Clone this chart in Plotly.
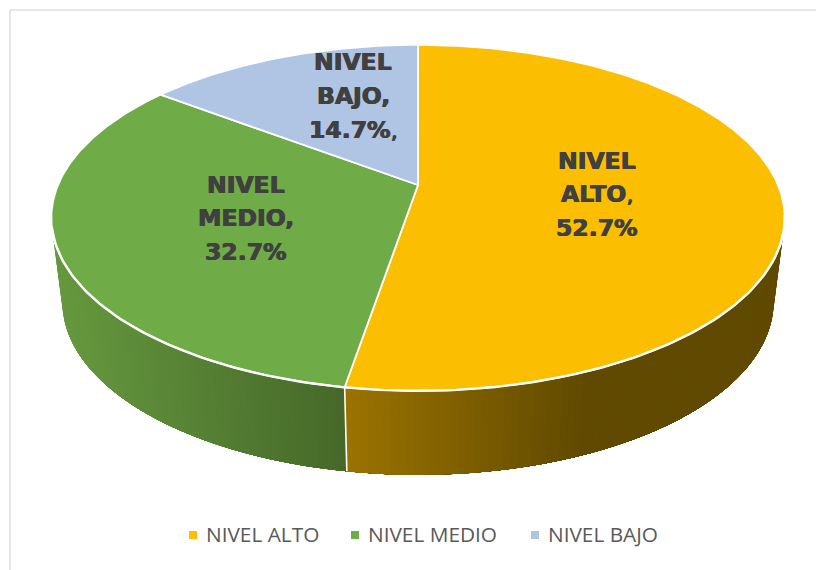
"""3D pie: nivel alto / medio / bajo, drawn on pixel-sized axes."""

import math

import plotly.graph_objects as go

categories = ["NIVEL ALTO", "NIVEL MEDIO", "NIVEL BAJO"]
values = [52.7, 32.7, 14.7]
label_lines = [
    ["<b>NIVEL</b>", "<b>ALTO</b>,", "<b>52.7%</b>"],
    ["<b>NIVEL</b>", "<b>MEDIO,</b>", "<b>32.7%</b>"],
    ["<b>NIVEL</b>", "<b>BAJO,</b>", "<b>14.7%</b>,"],
]
colors = ["#FBBE00", "#6FAB47", "#B0C4E3"]

# look of the tilted disc
CX, CY = 418, 185
A, B, P = 360, 166.7, 0.19
DEPTH = 84
SHRINK = 0.97
WALL_STOPS = {
    0: [(347, (156, 116, 0)), (590, (96, 73, 0)), (790, (96, 73, 0))],
    1: [(60, (102, 153, 63)), (345, (70, 104, 41))],
}
LABEL_POS = [(597, [161, 194, 228]), (246, [185, 218, 252]), (353, [62, 96, 130])]
LEGEND_X = [193, 355, 535]


def rim(theta, scale=1.0, dy=0.0):
    t = math.radians(theta)
    u, v = math.sin(t), math.cos(t)
    d = 1 + P * v
    return CX + scale * A * u / d, CY - B * v / d + dy


def wall_color(stops, x):
    if x <= stops[0][0]:
        return "rgb(%d,%d,%d)" % stops[0][1]
    for (x0, c0), (x1, c1) in zip(stops, stops[1:]):
        if x <= x1:
            k = (x - x0) / (x1 - x0)
            return "rgb(%d,%d,%d)" % tuple(c0[i] + (c1[i] - c0[i]) * k for i in range(3))
    return "rgb(%d,%d,%d)" % stops[-1][1]


total = sum(values)
edges = [0.0]
for val in values:
    edges.append(edges[-1] + val / total * 360)

fig = go.Figure()

# side wall, strips overlap the next one so no seams show through the shading
wall_ranges = [(100, edges[1]), (256, edges[1])]
for i, (start, stop) in enumerate(wall_ranges):
    n = int(abs(stop - start)) + 1
    for j in range(n):
        t0 = start + (stop - start) * j / n
        t1 = stop
        xm = rim(t0, (1 + SHRINK) / 2)[0]
        col = wall_color(WALL_STOPS[i], xm)
        ts = [t0 + (t1 - t0) * k / 20 for k in range(21)]
        top = [rim(t) for t in ts]
        bot = [rim(t, SHRINK, DEPTH) for t in reversed(ts)]
        pts = top + bot + [top[0]]
        fig.add_trace(go.Scatter(
            x=[p[0] for p in pts], y=[p[1] for p in pts],
            mode="lines", fill="toself", fillcolor=col,
            line=dict(width=0), hoverinfo="skip", showlegend=False,
        ))

# white seam on the wall between yellow and green
sx0, sy0 = rim(edges[1])
sx1, sy1 = rim(edges[1], SHRINK, DEPTH)
fig.add_trace(go.Scatter(x=[sx0, sx1], y=[sy0, sy1], mode="lines",
                         line=dict(color="white", width=1.6), hoverinfo="skip", showlegend=False))

# top face
for i, cat in enumerate(categories):
    n = int(edges[i + 1] - edges[i]) * 2
    pts = [rim(edges[i] + (edges[i + 1] - edges[i]) * j / n) for j in range(n + 1)]
    xs = [CX] + [p[0] for p in pts] + [CX]
    ys = [CY] + [p[1] for p in pts] + [CY]
    fig.add_trace(go.Scatter(
        x=xs, y=ys, mode="lines", fill="toself", fillcolor=colors[i],
        line=dict(color="white", width=1.8), name=cat, showlegend=False,
        text=cat, hoveron="fills", hoverinfo="text",
    ))

# front rim is a bit heavier than the rest of the outline
front = [rim(100 + j) for j in range(157)]
fig.add_trace(go.Scatter(x=[p[0] for p in front], y=[p[1] for p in front], mode="lines",
                         line=dict(color="white", width=2.4), hoverinfo="skip", showlegend=False))

# legend row
annotations = []
for i, cat in enumerate(categories):
    fig.add_trace(go.Scatter(
        x=[LEGEND_X[i]], y=[535], mode="markers",
        marker=dict(symbol="square", size=8, color=colors[i]), hoverinfo="skip", showlegend=False,
    ))
    annotations.append(dict(
        x=LEGEND_X[i] + 11, y=534, xref="x", yref="y", text=cat, showarrow=False, xanchor="left",
        font=dict(family="Open Sans", size=20.8, color="#595959"),
    ))

# data labels, one annotation per line because the spacing is wider than plotly's
for lines, (lx, lys) in zip(label_lines, LABEL_POS):
    for line, ly in zip(lines, lys):
        annotations.append(dict(
            x=lx, y=ly, xref="x", yref="y", text=line, showarrow=False,
            font=dict(family="DejaVu Sans", size=23.5, color="#404040",
                      shadow="0.5px 0 #404040, -0.5px 0 #404040"),
        ))

fig.update_layout(
    width=816, height=570,
    margin=dict(l=0, r=0, t=0, b=0),
    paper_bgcolor="white", plot_bgcolor="white",
    xaxis=dict(range=[0, 816], visible=False, fixedrange=True),
    yaxis=dict(range=[570, 0], visible=False, fixedrange=True),
    showlegend=False,
    annotations=annotations,
    shapes=[
        dict(type="line", x0=10, x1=816, y0=10, y1=10, line=dict(color="#DEDEDE", width=1.5)),
        dict(type="line", x0=10, x1=10, y0=10, y1=570, line=dict(color="#DEDEDE", width=1.5)),
    ],
)

# page margin would push the picture 8px in
fig.write_html("out.html", config={"displayModeBar": False},
               post_script="document.body.style.margin='0';")
